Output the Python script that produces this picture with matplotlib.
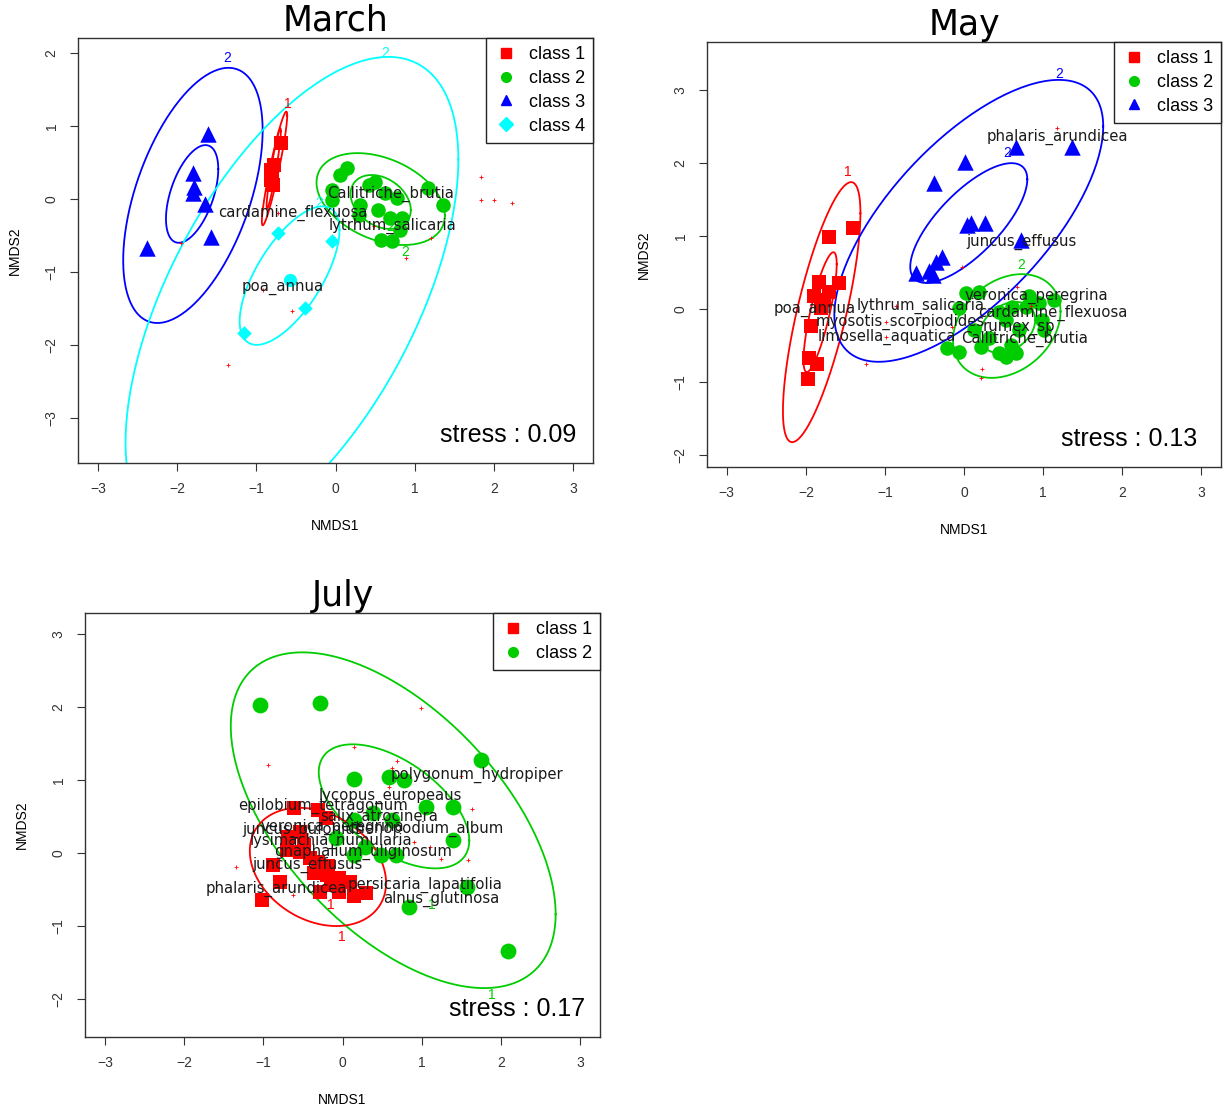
import numpy as np
import matplotlib.pyplot as plt
from matplotlib.lines import Line2D

# ---- March ----
mar_c1 = [(-0.69, 0.77), (-0.82, 0.40), (-0.82, 0.26), (-0.79, 0.19), (-0.80, 0.33), (-0.78, 0.47)]
mar_c2 = [(0.15, 0.42), (0.06, 0.33), (-0.04, 0.12), (-0.04, -0.01), (0.31, -0.08), (0.42, 0.19),
          (0.50, 0.24), (0.63, 0.08), (0.78, 0.01), (0.54, -0.15), (0.69, -0.26), (0.84, -0.26),
          (0.82, -0.42), (0.57, -0.56), (0.71, -0.58), (1.17, 0.15), (1.36, -0.08), (0.29, -0.22)]
mar_c3 = [(-1.61, 0.89), (-1.80, 0.36), (-1.79, 0.16), (-1.80, 0.08), (-1.65, -0.07),
          (-2.38, -0.67), (-1.57, -0.52)]
mar_c4 = [(-0.72, -0.47), (-0.04, -0.57), (-0.39, -1.49), (-1.16, -1.84)]
mar_c4_round = [(-0.58, -1.11)]
mar_sp = [(1.83, 0.30), (1.84, -0.01), (2.00, -0.01), (2.23, -0.05), (1.21, -0.53), (0.89, -0.81),
          (-0.55, -1.53), (-1.36, -2.27), (-1.95, -0.60), (-0.73, -0.19), (0.48, -0.37), (-0.92, -1.25)]
mar_names = ["cardamine_flexuosa", "Callitriche_brutia", "lytrhum_salicaria", "poa_annua"]
mar_name_xy = [(-0.54, -0.19), (0.70, 0.07), (0.72, -0.37), (-0.67, -1.22)]
# contour ellipses: cx, cy, half-width x, half-height y, tilt, colour
mar_ell = [(-0.77, 0.42, 0.16, 0.78, 0.93, "red"),
           (-0.78, 0.42, 0.09, 0.55, 0.93, "red"),
           (-1.80, 0.05, 0.88, 1.75, 0.51, "blue"),
           (-1.81, 0.07, 0.33, 0.67, 0.51, "blue"),
           (0.57, 0.00, 0.81, 0.63, -0.36, "#00CD00"),
           (0.57, -0.04, 0.38, 0.37, -0.30, "#00CD00"),
           (-0.58, -1.05, 0.63, 0.95, 0.66, "cyan"),
           (-0.55, -1.40, 2.10, 3.35, 0.58, "cyan")]
mar_lvl = [("1", -0.60, 1.31, "red"), ("2", -1.37, 1.93, "blue"), ("2", 0.63, 2.01, "cyan"),
           ("2", -0.21, -0.05, "cyan"), ("2", 0.88, -0.73, "#00CD00"), ("2", 0.69, -0.38, "#00CD00")]

# ---- May ----
may_c1 = [(-1.41, 1.11), (-1.71, 0.99), (-1.84, 0.37), (-1.58, 0.36), (-1.90, 0.18), (-1.71, 0.23),
          (-1.81, 0.01), (-1.94, -0.23), (-1.96, -0.67), (-1.86, -0.75), (-1.97, -0.96), (-1.77, 0.12)]
may_c2 = [(0.03, 0.22), (0.19, 0.23), (-0.06, 0.01), (0.44, -0.04), (0.61, 0.03), (0.78, 0.03),
          (0.95, 0.08), (1.14, 0.12), (-0.22, -0.53), (-0.06, -0.59), (0.22, -0.52), (0.44, -0.60),
          (0.53, -0.66), (0.66, -0.60), (1.01, -0.29), (0.99, -0.15), (0.53, -0.15), (0.70, -0.29),
          (0.32, -0.40), (0.82, 0.18), (0.13, -0.29), (0.59, -0.49)]
may_c3 = [(-0.38, 1.73), (0.01, 2.01), (0.66, 2.22), (1.37, 2.22), (0.09, 1.18), (0.27, 1.18),
          (0.04, 1.15), (0.72, 0.95), (-0.28, 0.71), (-0.35, 0.64), (-0.44, 0.53), (-0.61, 0.49),
          (-0.39, 0.47)]
may_sp = [(1.18, 2.48), (-0.03, 0.58), (-0.86, 0.05), (-0.99, -0.18), (-0.99, -0.38), (-1.24, -0.75),
          (-0.15, -0.25), (0.23, -0.82), (0.22, -0.94), (0.67, 0.30), (0.85, 0.05), (-1.80, 0.00)]
may_names = ["phalaris_arundicea", "juncus_effusus", "poa_annua", "lythrum_salicaria",
             "myosotis_scorpiodides", "limosella_aquatica", "veronica_peregrina",
             "cardamine_flexuosa", "rumex_sp", "Callitriche_brutia"]
may_name_xy = [(1.18, 2.36), (0.73, 0.92), (-1.89, 0.00), (-0.55, 0.04), (-0.81, -0.18),
               (-0.98, -0.38), (0.92, 0.18), (1.12, -0.05), (0.70, -0.25), (0.76, -0.41)]
may_ell = [(-1.80, -0.04, 0.49, 1.78, 0.76, "red"),
           (-1.82, -0.04, 0.21, 0.82, 0.80, "red"),
           (0.06, 1.21, 1.70, 1.93, 0.67, "blue"),
           (0.06, 1.18, 0.74, 0.82, 0.73, "blue"),
           (0.54, -0.23, 0.68, 0.71, 0.28, "#00CD00"),
           (0.55, -0.25, 0.35, 0.35, 0.30, "#00CD00")]
may_lvl = [("1", -1.47, 1.88, "red"), ("2", 1.20, 3.22, "blue"), ("2", 0.54, 2.14, "blue"),
           ("2", 0.72, 0.60, "#00CD00")]

# ---- July ----
jul_c1 = [(-0.61, 0.62), (-0.31, 0.59), (-0.21, 0.48), (-0.54, 0.29), (-0.69, 0.22), (-0.70, 0.04),
          (-0.88, -0.16), (-0.54, 0.01), (-0.41, -0.07), (-0.31, -0.12), (-0.18, -0.18), (-0.79, -0.40),
          (-1.02, -0.64), (-0.36, -0.27), (-0.20, -0.30), (-0.04, -0.34), (0.09, -0.40), (-0.04, -0.53),
          (0.15, -0.59), (0.30, -0.55), (-0.29, -0.53), (-0.14, -0.44), (-0.48, 0.11)]
jul_c2 = [(-1.04, 2.03), (-0.28, 2.05), (1.75, 1.27), (0.15, 1.01), (0.59, 1.04), (0.78, 1.00),
          (1.05, 0.63), (1.40, 0.63), (1.40, 0.18), (0.63, 0.45), (0.38, 0.55), (0.15, 0.45),
          (-0.08, 0.21), (0.28, 0.08), (0.15, -0.03), (0.49, -0.03), (0.68, -0.03), (0.84, -0.74),
          (1.57, -0.47), (2.09, -1.34)]
jul_sp = [(0.14, 1.45), (-0.94, 1.21), (0.99, 1.99), (0.69, 1.26), (0.63, 1.16), (0.59, 0.90),
          (1.49, 1.05), (1.63, 0.60), (0.90, 0.15), (1.24, -0.08), (1.59, -0.10), (-1.34, -0.19),
          (1.10, 0.08), (-0.62, -0.57)]
jul_names = ["polygonum_hydropiper", "lycopus_europeaus", "epilobium_tetragonum", "salix_atrocinera",
             "veronica_peregrina", "juncus_bufonius", "chenopodium_album", "lysimachia_numularia",
             "gnaphalium_uliginosum", "juncus_effusus", "phalaris_arundicea",
             "persicaria_lapatifolia", "alnus_glutinosa"]
jul_name_xy = [(1.70, 1.07), (0.60, 0.79), (-0.24, 0.64), (0.46, 0.49), (-0.13, 0.36), (-0.51, 0.32),
               (1.05, 0.33), (-0.14, 0.16), (0.26, 0.01), (-0.44, -0.16), (-0.84, -0.49),
               (1.04, -0.44), (1.25, -0.63)]
jul_ell = [(0.64, 0.45, 2.05, 2.30, -0.56, "#00CD00"),
           (0.65, 0.64, 0.95, 0.85, -0.55, "#00CD00"),
           (-0.31, -0.19, 0.86, 0.81, -0.27, "red")]
jul_lvl = [("1", -0.15, -0.71, "red"), ("1", -0.01, -1.15, "red"), ("1", 1.88, -1.95, "#00CD00"),
           ("1", 1.13, -0.71, "#00CD00")]

GREEN = "#00CD00"
TICKFONT = "Liberation Sans"


def ellipse(cx, cy, hx, hy, rho):
    t = np.linspace(0, 2 * np.pi, 200)
    x = cx + hx * np.cos(t)
    y = cy + hy * (rho * np.cos(t) + np.sqrt(1 - rho ** 2) * np.sin(t))
    return x, y


def panel(rect, title, ylim, yticks, classes, sp, names, name_xy, ells, lvls, stress, stress_x):
    ax = fig.add_axes(rect)
    for pts, mk, col, s, lab in classes:
        a = np.array(pts)
        ax.scatter(a[:, 0], a[:, 1], marker=mk, c=col, s=s, linewidths=0, zorder=3)
    a = np.array(sp)
    ax.scatter(a[:, 0], a[:, 1], marker="+", c="red", s=12, linewidths=0.6, zorder=4)
    for cx, cy, hx, hy, rho, col in ells:
        ex, ey = ellipse(cx, cy, hx, hy, rho)
        ax.plot(ex, ey, color=col, lw=1.3, zorder=2)
    for txt, lx, ly, col in lvls:
        ax.text(lx, ly, txt, color=col, fontsize=10, ha="center", va="center", family=TICKFONT)
    for n, (tx, ty) in zip(names, name_xy):
        ax.text(tx, ty, n, fontsize=10.7, ha="center", va="center", color="#1a1a1a",
                family="DejaVu Sans", zorder=5)
    ax.set_xlim(-3.25, 3.25)
    ax.set_ylim(*ylim)
    ax.set_xticks(range(-3, 4))
    ax.set_yticks(yticks)
    ax.tick_params(length=6, width=0.8, labelsize=10, pad=8, colors="#333333")
    ax.tick_params(axis="y", labelrotation=90)
    for lbl in ax.get_yticklabels():
        lbl.set_va("center")
    for lbl in ax.get_xticklabels() + ax.get_yticklabels():
        lbl.set_family(TICKFONT)
    for sp_ in ax.spines.values():
        sp_.set_linewidth(1.0)
        sp_.set_color("#333333")
    ax.set_xlabel("NMDS1", fontsize=10, family=TICKFONT, labelpad=16)
    ax.set_ylabel("NMDS2", fontsize=10, family=TICKFONT, labelpad=16)
    ax.set_title(title, fontsize=25, pad=1, family="DejaVu Sans")
    ax.text(stress_x, 0.066, "stress : " + stress, transform=ax.transAxes, ha="right",
            va="center", fontsize=18, family=TICKFONT)
    handles = [Line2D([], [], ls="", marker=mk, color=col, markersize=7, label=lab)
               for pts, mk, col, s, lab in classes]
    leg = ax.legend(handles=handles, loc="upper right", borderaxespad=0, fancybox=False,
                    framealpha=1, edgecolor="#222222", handletextpad=0.6,
                    labelspacing=0.38, handlelength=1.3, borderpad=0.45,
                    prop={"family": TICKFONT, "size": 13})
    leg.get_frame().set_linewidth(1.0)
    return ax


fig = plt.figure(figsize=(12.23, 11.06), dpi=100)

panel([0.0638, 0.5814, 0.4211, 0.3843], "March", (-3.62, 2.21), range(-3, 3),
      [(mar_c1, "s", "red", 90, "class 1"), (mar_c2, "o", GREEN, 110, "class 2"),
       (mar_c3, "^", "blue", 140, "class 3"), (mar_c4, "D", "cyan", 55, "class 4")],
      mar_sp, mar_names, mar_name_xy, mar_ell, mar_lvl, "0.09", 0.967)
ax = fig.axes[-1]
a = np.array(mar_c4_round)
ax.scatter(a[:, 0], a[:, 1], marker="o", c="cyan", s=90, linewidths=0, zorder=3)

panel([0.5781, 0.5778, 0.4203, 0.3843], "May", (-2.16, 3.66), range(-2, 4),
      [(may_c1, "s", "red", 90, "class 1"), (may_c2, "o", GREEN, 110, "class 2"),
       (may_c3, "^", "blue", 140, "class 3")],
      may_sp, may_names, may_name_xy, may_ell, may_lvl, "0.13", 0.953)

panel([0.0695, 0.0624, 0.4211, 0.3834], "July", (-2.52, 3.29), range(-2, 4),
      [(jul_c1, "s", "red", 110, "class 1"), (jul_c2, "o", GREEN, 130, "class 2")],
      jul_sp, jul_names, jul_name_xy, jul_ell, jul_lvl, "0.17", 0.971)

fig.savefig("out.png", dpi=100)
